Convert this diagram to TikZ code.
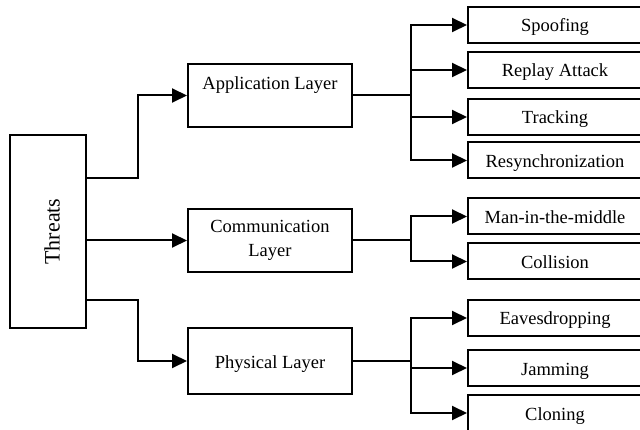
\documentclass[tikz,border=0pt]{standalone}
\usepackage{fontspec}
\setmainfont{Liberation Serif}
\usetikzlibrary{arrows.meta,positioning}
\tikzset{
  box/.style={draw,line width=2pt,inner sep=0pt,font=\fontsize{18.5}{24}\selectfont},
  layer/.style={box,align=center,minimum width=164pt,minimum height=63pt},
  leaf/.style={box,minimum width=174pt,minimum height=36pt,text height=17pt,text depth=3pt},
  link/.style={line width=2pt},
  arr/.style={link,-{Triangle[length=15pt,width=14pt]}}
}
\begin{document}
\begin{tikzpicture}[x=1pt,y=-1pt]
  \useasboundingbox (0,0) rectangle (640,430);

  \node[box,minimum width=76pt,minimum height=193pt] (threats) at (48,231.5) {\rotatebox{90}{\raisebox{-4pt}[\height][\depth]{\fontsize{22}{26}\selectfont Threats}}};

  \node[layer] (app) at (270,95.5) {Application Layer\\\mbox{}};
  \node[layer] (comm) at (270,240.5) {Communication\\Layer};
  \node[layer,minimum height=66pt,text height=17pt,text depth=3pt] (phys) at (270,361) {Physical Layer};

  \node[leaf] (spoof) at (555,25) {Spoofing};
  \node[leaf] (replay) at (555,70) {Replay Attack};
  \node[leaf] (track) at (555,117) {Tracking};
  \node[leaf] (resync) at (555,160.5) {Resynchronization};
  \node[leaf] (mitm) at (555,216.5) {Man-in-the-middle};
  \node[leaf] (coll) at (555,261.5) {Collision};
  \node[leaf] (eaves) at (555,318) {Eavesdropping};
  \node[leaf] (jam) at (555,368) {Jamming};
  \node[leaf] (clone) at (555,413) {Cloning};

  \draw[arr] ([yshift=53.5pt]threats.east) -- ++(51,0) |- (app);
  \draw[arr] (threats.east |- comm) -- (comm);
  \draw[arr] ([yshift=-68.5pt]threats.east) -- ++(51,0) |- (phys);

  \draw[link] (app.east) -- ++(58,0) coordinate (appfork);
  \draw[link] (comm.east) -- ++(58,0) coordinate (commfork);
  \draw[link] (phys.east) -- ++(58,0) coordinate (physfork);

  \foreach \n in {spoof,replay,track,resync} \draw[arr] (appfork) |- (\n);
  \foreach \n in {mitm,coll} \draw[arr] (commfork) |- (\n);
  \foreach \n in {eaves,jam,clone} \draw[arr] (physfork) |- (\n);
\end{tikzpicture}
\end{document}
